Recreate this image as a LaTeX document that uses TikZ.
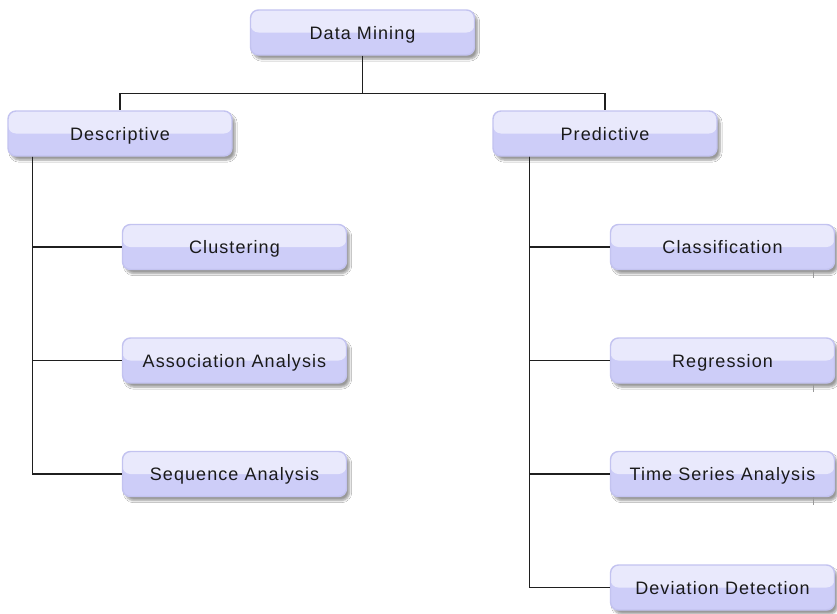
\documentclass[tikz,border=0pt]{standalone}
\usepackage{fontspec}
\setmainfont{Liberation Sans}[LetterSpace=6]
\usetikzlibrary{shadows.blur}
\definecolor{boxtop}{HTML}{E9E9FC}
\definecolor{boxbottom}{HTML}{CDCDF8}
\definecolor{boxedge}{HTML}{C3C3F0}
\definecolor{inktext}{HTML}{1A1A1A}
\tikzset{
  topic/.style={
    draw=boxedge, line width=1.4pt, rounded corners=8pt,
    minimum width=224pt, minimum height=45pt, inner sep=0pt,
    text height=13pt, text depth=0pt,
    fill=boxbottom, text=inktext, font=\fontsize{18}{20}\selectfont,
    path picture={\fill[boxtop] (path picture bounding box.north west) rectangle (path picture bounding box.east);},
    blur shadow={shadow xshift=3pt, shadow yshift=-4pt, shadow blur steps=6, shadow opacity=40}
  },
  link/.style={draw=black!88, line width=1.4pt},
  tick/.style={draw=black!40, line width=1pt}
}
\begin{document}
\begin{tikzpicture}[x=1pt, y=-1pt]
\useasboundingbox (0,0) rectangle (837,613);
\fill[white] (0,0) rectangle (837,613);

% root and the two branches
\node[topic] (dm)    at (362.5, 32.5) {Data Mining};
\node[topic] (desc)  at (120, 133.5)  {Descriptive};
\node[topic] (pred)  at (605, 133.5)  {Predictive};

% descriptive tasks
\node[topic] (clus)  at (234.5, 247)   {Clustering};
\node[topic] (assoc) at (234.5, 360.5) {Association Analysis};
\node[topic] (seq)   at (234.5, 474)   {Sequence Analysis};

% predictive tasks
\node[topic] (class) at (722.5, 247)   {Classification};
\node[topic] (regr)  at (722.5, 360.5) {Regression};
\node[topic] (tsa)   at (722.5, 474)   {Time Series Analysis};
\node[topic] (dev)   at (722.5, 587.5) {Deviation Detection};

% root bus
\coordinate (bus) at ([yshift=-38pt]dm.south);
\draw[link] (dm.south) -- (bus);
\draw[link] (bus) -| (desc.north);
\draw[link] (bus) -| (pred.north);

% trunks
\coordinate (dtrunk) at ([xshift=25pt]desc.south west);
\coordinate (ptrunk) at ([xshift=37pt]pred.south west);
\draw[link] (dtrunk) |- (seq.west);
\draw[link] (dtrunk) |- (clus.west);
\draw[link] (dtrunk) |- (assoc.west);
\draw[link] (ptrunk) |- (dev.west);
\draw[link] (ptrunk) |- (class.west);
\draw[link] (ptrunk) |- (regr.west);
\draw[link] (ptrunk) |- (tsa.west);

% small marks under the right-hand boxes
\foreach \n in {class, regr, tsa} {
  \coordinate (m\n) at ([xshift=-22pt]\n.south east);
  \draw[tick] (m\n) -- ++(0,8);
}
\end{tikzpicture}
\end{document}
